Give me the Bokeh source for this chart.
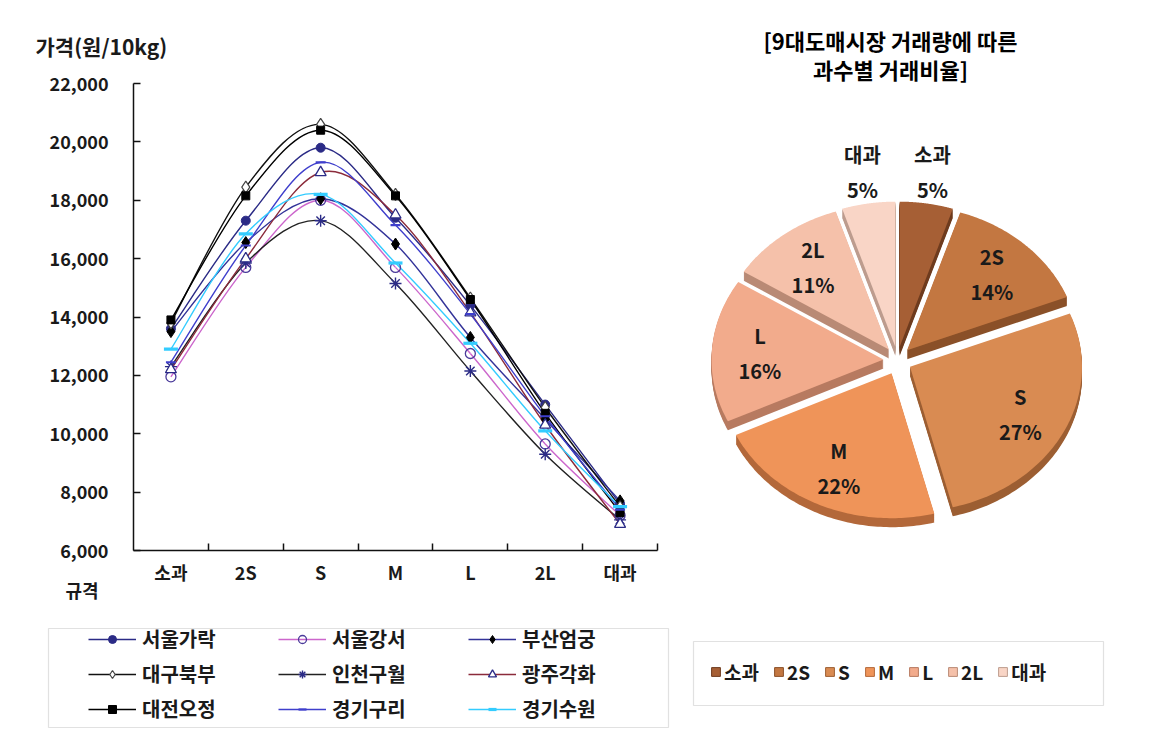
import numpy as np
from bokeh.plotting import figure
from bokeh.models import (Range1d, FixedTicker, Legend, LegendItem, Title,
                          BoxAnnotation, NumeralTickFormatter)
from bokeh.layouts import row, column
from bokeh.embed import file_html
from bokeh.resources import INLINE
from bokeh.core.properties import value

# ---------------- data ----------------
grades = ["소과", "2S", "S", "M", "L", "2L", "대과"]
price_ticks = [6000, 8000, 10000, 12000, 14000, 16000, 18000, 20000, 22000]

markets = ["서울가락", "서울강서", "부산엄궁", "대구북부", "인천구월",
           "광주각화", "대전오정", "경기구리", "경기수원"]
seoul_garak = [13600, 17300, 19800, 17400, 14400, 11000, 7600]
seoul_gangseo = [11950, 15700, 18000, 15700, 12750, 9650, 7200]
busan_eomgung = [13500, 16550, 18050, 16500, 13300, 10500, 7700]
daegu_bukbu = [13800, 18450, 20600, 18200, 14650, 10900, 7500]
incheon_guwol = [12300, 15850, 17300, 15150, 12150, 9300, 7050]
gwangju_gakhwa = [12200, 16000, 18950, 17500, 14150, 10300, 6900]
daejeon_ojeong = [13900, 18150, 20400, 18150, 14600, 10700, 7300]
gyeonggi_guri = [12450, 16450, 19300, 17150, 14100, 10600, 7400]
gyeonggi_suwon = [12900, 16850, 18200, 15850, 13100, 10100, 7500]

series = [seoul_garak, seoul_gangseo, busan_eomgung, daegu_bukbu, incheon_guwol,
          gwangju_gakhwa, daejeon_ojeong, gyeonggi_guri, gyeonggi_suwon]

share_pct = [5, 14, 27, 22, 16, 11, 5]

title_lines = ["[9대도매시장 거래량에 따른", "과수별 거래비율]"]
y_title = "가격(원/10kg)"
x_title = "규격"

# ---------------- styles ----------------
FONT = "Noto Sans CJK KR"
styles = [
    dict(line="#2b2b86", marker="circle", size=9, fill="#2b2b86", edge="#2b2b86", lw=1),
    dict(line="#cc66cc", marker="circle", size=10, fill=None, edge="#4a3a9a", lw=1.3),
    dict(line="#333399", marker="diamond", size=12, fill="#000000", edge="#000000", lw=1),
    dict(line="#111111", marker="diamond", size=12, fill="white", edge="#444444", lw=1.2),
    dict(line="#222222", marker="asterisk", size=12, fill=None, edge="#2b2b86", lw=1.4),
    dict(line="#8b2b3b", marker="triangle", size=11, fill="white", edge="#2b2b86", lw=1.3),
    dict(line="#000000", marker="square", size=8, fill="#000000", edge="#000000", lw=1),
    dict(line="#3f3fcc", marker="dash", size=10, fill="#3f3fcc", edge="#3f3fcc", lw=2.2),
    dict(line="#33ccff", marker="dash", size=14, fill="#33ccff", edge="#33ccff", lw=3.2),
]
pie_colors = ["#a65f35", "#c37741", "#d98b52", "#ef9459", "#f2ab8c", "#f5c1aa", "#f9d5c6"]
pie_sides = ["#6e3b1e", "#8a5028", "#9c5e32", "#b3683a", "#b77a60", "#b98a75", "#bd9c8e"]

TOP_H, BOT_H = 614, 127
LEFT_W, RIGHT_W = 688, 454
B_TOP, B_BOT = 83, 64

# ---------------- line chart ----------------
p = figure(width=LEFT_W, height=TOP_H, x_range=Range1d(0, len(grades)),
           y_range=Range1d(price_ticks[0], price_ticks[-1]),
           output_backend="svg", toolbar_location=None,
           min_border_left=133, min_border_right=31, min_border_top=B_TOP, min_border_bottom=B_BOT)
p.outline_line_color = None
p.xgrid.visible = False
p.ygrid.visible = False

xc = np.arange(len(grades)) + 0.5
p.xaxis.ticker = FixedTicker(ticks=list(xc), minor_ticks=list(range(1, len(grades) + 1)))
p.xaxis.major_label_overrides = {float(x): g for x, g in zip(xc, grades)}
p.xaxis.major_tick_out = 0
p.xaxis.major_tick_in = 0
p.xaxis.minor_tick_in = 7
p.xaxis.minor_tick_out = 0
p.xaxis.major_label_standoff = 8

p.yaxis.ticker = FixedTicker(ticks=price_ticks, minor_ticks=[])
p.yaxis.formatter = NumeralTickFormatter(format="0,0")
p.yaxis.major_tick_in = 7
p.yaxis.major_tick_out = 0
p.yaxis.major_label_standoff = 25

p.axis.axis_line_color = "#111111"
p.axis.axis_line_width = 1.5
p.axis.major_tick_line_color = "#111111"
p.axis.minor_tick_line_color = "#111111"
p.axis.major_tick_line_width = 1.5
p.axis.minor_tick_line_width = 1.5
p.axis.major_label_text_font = FONT
p.axis.major_label_text_font_size = "18px"
p.axis.major_label_text_font_style = "bold"
p.axis.major_label_text_color = "#1a1a1a"


def smooth_segments(x, y):
    xp = np.concatenate([[x[0]], x, [x[-1]]])
    yp = np.concatenate([[y[0]], y, [y[-1]]])
    n = len(x)
    cx0 = x[:-1] + (xp[2:n + 1] - xp[0:n - 1]) / 6.0
    cy0 = y[:-1] + (yp[2:n + 1] - yp[0:n - 1]) / 6.0
    cx1 = x[1:] - (xp[3:n + 2] - xp[1:n]) / 6.0
    cy1 = y[1:] - (yp[3:n + 2] - yp[1:n]) / 6.0
    return dict(x0=x[:-1], y0=y[:-1], x1=x[1:], y1=y[1:], cx0=cx0, cy0=cy0, cx1=cx1, cy1=cy1)


for vals, st in zip(series, styles):
    y = np.array(vals, dtype=float)
    seg = smooth_segments(xc, y)
    p.bezier(line_color=st["line"], line_width=1.4, **seg)

for vals, st in zip(series, styles):
    y = np.array(vals, dtype=float)
    p.scatter(xc, y, marker=st["marker"], size=st["size"], fill_color=st["fill"],
              line_color=st["edge"], line_width=st["lw"])

p.add_layout(Title(text=y_title, align="left", offset=-98, standoff=46,
                   text_font=FONT, text_font_size="21px", text_font_style="bold",
                   text_color="#1a1a1a"), "above")
p.add_layout(Title(text=x_title, align="left", offset=-68, standoff=-31,
                   text_font=FONT, text_font_size="18px", text_font_style="bold",
                   text_color="#1a1a1a"), "below")

# ---------------- line legend ----------------
lf = figure(width=LEFT_W, height=BOT_H, x_range=Range1d(0, LEFT_W), y_range=Range1d(-741, -614),
            output_backend="svg", toolbar_location=None, min_border=0,
            x_axis_location=None, y_axis_location=None)
lf.outline_line_color = None
lf.grid.visible = False
lf.add_layout(BoxAnnotation(left=48, right=668, top=-628, bottom=-727, fill_color=None,
                            line_color="#9a9a9a", line_width=1.2))
items = []
for name, st in zip(markets, styles):
    rl = lf.line(x=[np.nan, np.nan], y=[np.nan, np.nan], line_color=st["line"], line_width=1.4)
    rm = lf.scatter(x=[np.nan], y=[np.nan], marker=st["marker"], fill_color=st["fill"],
                    line_color=st["edge"], line_width=st["lw"])
    items.append(LegendItem(label=name, renderers=[rl, rm]))
leg = Legend(items=items, orientation="horizontal", ncols=3, location=(88, 18),
             border_line_color=None, background_fill_alpha=0, padding=0, margin=0,
             spacing=6, glyph_width=48, glyph_height=20, label_width=130, label_height=20,
             label_standoff=6, label_text_font=FONT, label_text_font_size="20px",
             label_text_font_style="bold", label_text_color="#1a1a1a")
lf.add_layout(leg, "center")

# ---------------- pie ----------------
PIE_X0, PIE_X1 = 688, 1092
pf = figure(width=RIGHT_W, height=TOP_H, x_range=Range1d(PIE_X0, PIE_X1),
            y_range=Range1d(-(TOP_H - B_BOT), -B_TOP),
            output_backend="svg", toolbar_location=None,
            min_border_left=0, min_border_right=RIGHT_W - (PIE_X1 - PIE_X0),
            min_border_top=B_TOP, min_border_bottom=B_BOT,
            x_axis_location=None, y_axis_location=None)
pf.outline_line_color = None
pf.grid.visible = False

cx, cy, rx, ry, explode, depth = 897.0, -360.0, 172.0, 145.0, 14.0, 9

fr = np.array(share_pct, dtype=float) / np.sum(share_pct)
ends = np.cumsum(fr)
starts = ends - fr
a0 = np.pi / 2 - 2 * np.pi * starts
a1 = np.pi / 2 - 2 * np.pi * ends
mid = (a0 + a1) / 2

tops_x, tops_y = [], []
for s, e, m in zip(a0, a1, mid):
    t = np.linspace(s, e, 80)
    ox, oy = cx + explode * np.cos(m), cy + explode * np.sin(m)
    tops_x.append(np.concatenate([[ox], ox + rx * np.cos(t)]))
    tops_y.append(np.concatenate([[oy], oy + ry * np.sin(t)]))

side_x, side_y, side_c = [], [], []
for k in range(1, depth + 1):
    for xs, ys, c in zip(tops_x, tops_y, pie_sides):
        side_x.append(xs)
        side_y.append(ys - k)
        side_c.append(c)
pf.patches(xs=side_x, ys=side_y, fill_color=side_c, line_color=None)
pf.patches(xs=tops_x, ys=tops_y, fill_color=pie_colors, line_color=None)

lab_f = np.where(fr < 0.08, 1.22, 0.72)
lx = cx + (explode + lab_f * rx) * np.cos(mid)
ly = cy + (explode + lab_f * ry) * np.sin(mid)
pie_txt = [f"{g}\n{v}%" for g, v in zip(grades, share_pct)]
pf.text(x=lx, y=ly, text=pie_txt, text_font=value(FONT), text_font_size="20px",
        text_font_style="bold", text_align="center", text_baseline="middle",
        text_color="#1a1a1a", text_line_height=1.2)

for line, so in zip(reversed(title_lines), [-2, -9]):
    pf.add_layout(Title(text=line, align="center", standoff=so, text_font=FONT,
                        text_font_size="22px", text_font_style="bold",
                        text_color="#000000"), "above")

# ---------------- pie legend ----------------
plf = figure(width=RIGHT_W, height=BOT_H, x_range=Range1d(688, 688 + RIGHT_W),
             y_range=Range1d(-741, -614),
             output_backend="svg", toolbar_location=None, min_border=0,
             x_axis_location=None, y_axis_location=None)
plf.outline_line_color = None
plf.grid.visible = False
plf.add_layout(BoxAnnotation(left=693, right=1103, top=-641, bottom=-705, fill_color=None,
                             line_color="#9a9a9a", line_width=1.2))
pitems = []
for g, c, sc in zip(grades, pie_colors, pie_sides):
    r = plf.quad(left=[np.nan], right=[np.nan], top=[np.nan], bottom=[np.nan],
                 fill_color=c, line_color=sc, line_width=1)
    pitems.append(LegendItem(label=g, renderers=[r]))
pleg = Legend(items=pitems, orientation="horizontal", location=(22, 56),
              border_line_color=None, background_fill_alpha=0, padding=0, margin=0,
              spacing=14, glyph_width=11, glyph_height=11, label_width=10, label_height=20,
              label_standoff=3, label_text_font=FONT, label_text_font_size="19px",
              label_text_font_style="bold", label_text_color="#1a1a1a")
plf.add_layout(pleg, "center")

layout = column(row(p, pf), row(lf, plf))
open("out.html", "w").write(file_html(layout, INLINE))
